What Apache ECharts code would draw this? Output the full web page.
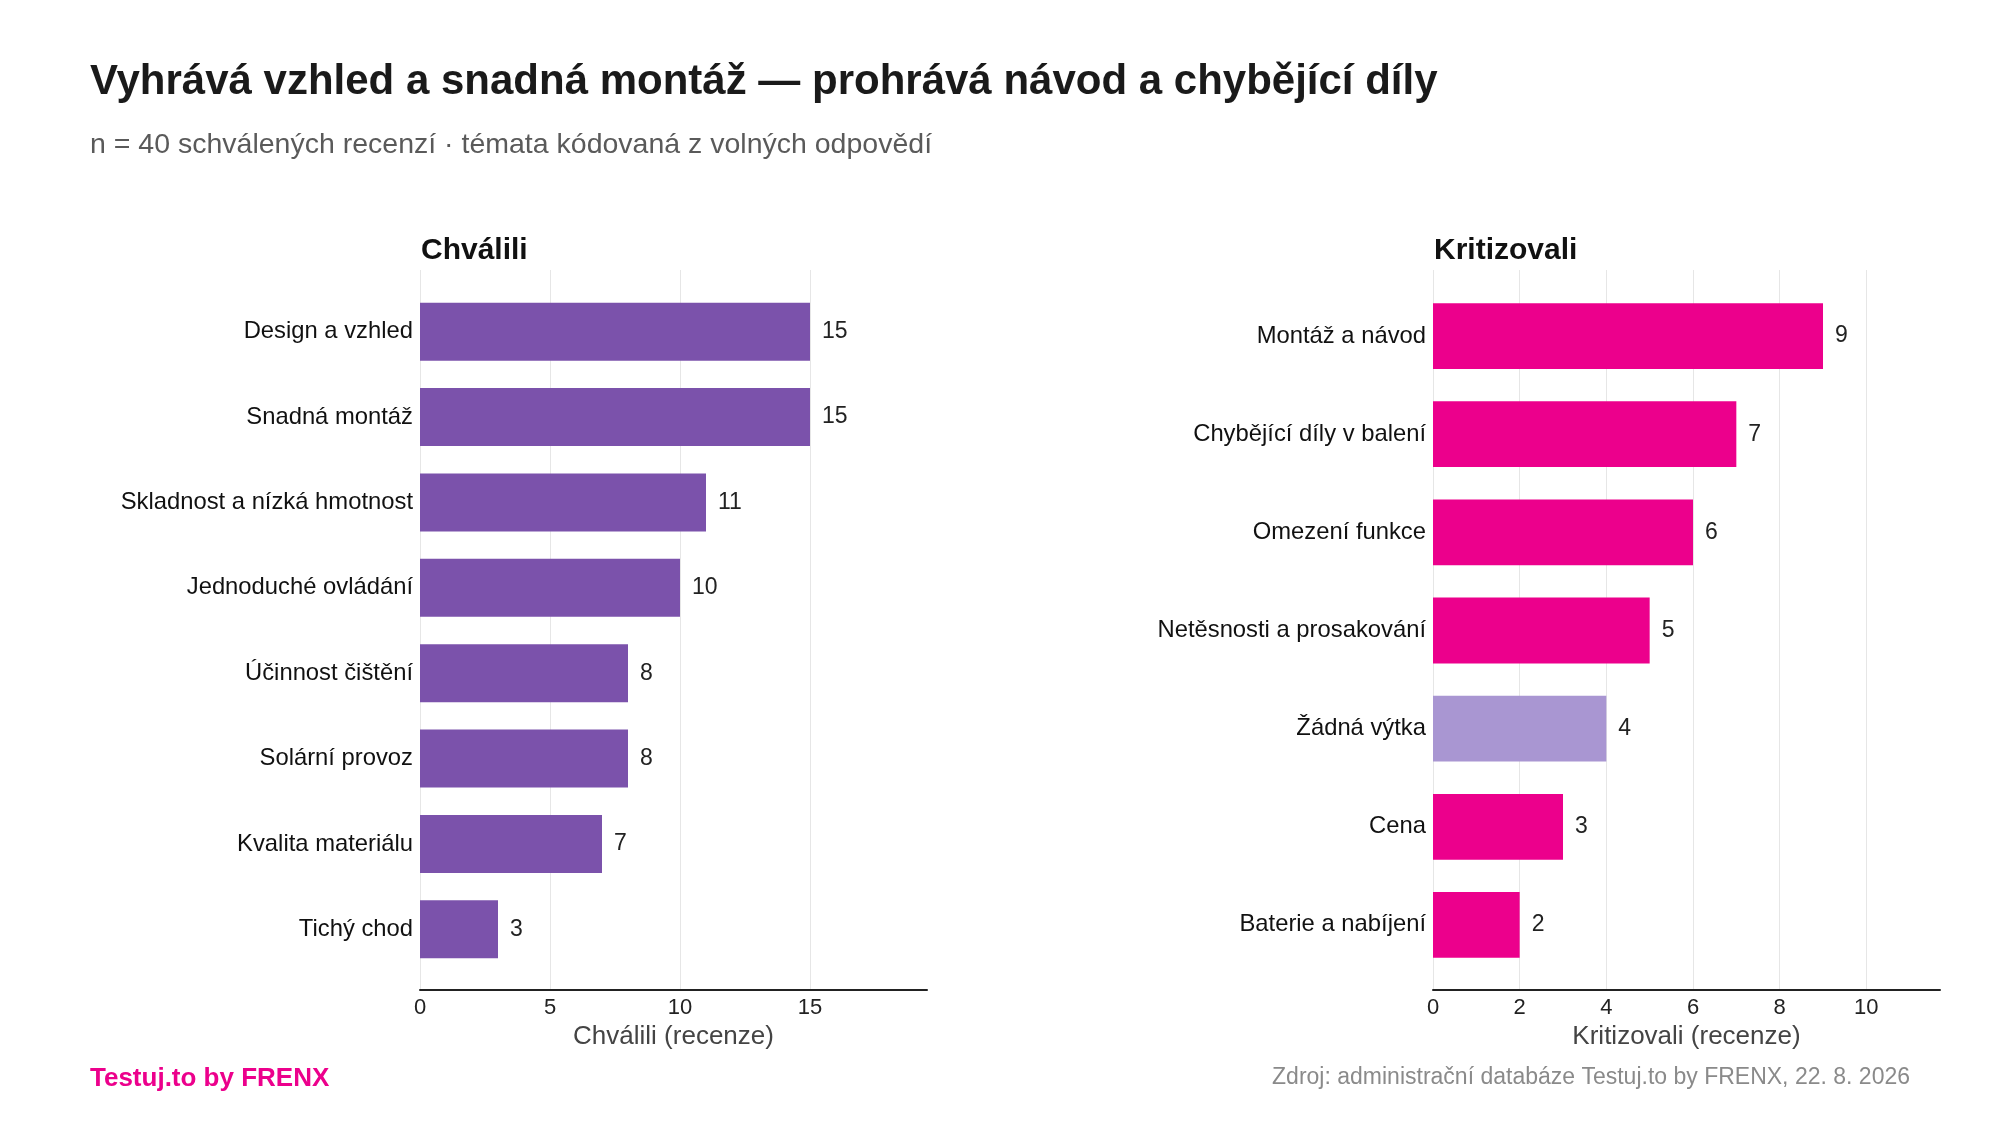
<!DOCTYPE html>
<html>
<head>
<meta charset="utf-8">
<script src="https://cdn.jsdelivr.net/npm/echarts@6/dist/echarts.min.js"></script>
<style>
html,body{margin:0;padding:0;background:#fff;}
#chart{width:2000px;height:1125px;}
</style>
</head>
<body>
<div id="chart"></div>
<script>
const praiseCategories = ['Design a vzhled','Snadná montáž','Skladnost a nízká hmotnost','Jednoduché ovládání','Účinnost čištění','Solární provoz','Kvalita materiálu','Tichý chod'];
const praiseValues = [15,15,11,10,8,8,7,3];
const critCategories = ['Montáž a návod','Chybějící díly v balení','Omezení funkce','Netěsnosti a prosakování','Žádná výtka','Cena','Baterie a nabíjení'];
const critValues = [9,7,6,5,4,3,2];
const critNeutral = 'Žádná výtka';

const FONT = "'Liberation Sans', Arial, sans-serif";
const PURPLE = '#7B52AB';
const MAGENTA = '#EC008C';
const LIGHT = '#A996D2';

const praiseMax = Math.max(...praiseValues) * 1.3;
const critMax = Math.max(...critValues) * 1.3;

const chart = echarts.init(document.getElementById('chart'));

function bgX(gridIndex, max, interval, name) {
  return {
    type: 'value', gridIndex, min: 0, max, interval,
    name, nameLocation: 'middle', nameGap: 34,
    nameTextStyle: {fontFamily: FONT, fontSize: 26, color: '#444'},
    axisLine: {show: true, lineStyle: {color: '#222', width: 2}},
    axisTick: {show: false},
    axisLabel: {fontFamily: FONT, fontSize: 22, color: '#222', margin: 7, showMaxLabel: false},
    splitLine: {show: true, showMaxLine: false, lineStyle: {color: '#e6e6e6', width: 1}}
  };
}
function barX(gridIndex, max) {
  return {type: 'value', gridIndex, min: 0, max, show: false, splitLine: {show: false}};
}
function bgY(gridIndex) {
  return {type: 'value', gridIndex, show: false, splitLine: {show: false}};
}
function barY(gridIndex, cats) {
  return {
    type: 'category', gridIndex, data: cats, inverse: true,
    axisLine: {show: false}, axisTick: {show: false}, splitLine: {show: false},
    axisLabel: {fontFamily: FONT, fontSize: 23.8, color: '#111', margin: 7, padding: [5, 0, 0, 0]}
  };
}
function ttl(text, pos, size, weight, color) {
  return Object.assign({text, padding: 0,
    textStyle: {fontFamily: FONT, fontSize: size, fontWeight: weight, color, lineHeight: size}}, pos);
}

chart.setOption({
  animation: false,
  backgroundColor: '#fff',
  title: [
    ttl('Vyhrává vzhled a snadná montáž — prohrává návod a chybějící díly', {left: 90, top: 61}, 42, 'bold', '#1a1a1a'),
    ttl('n = 40 schválených recenzí · témata kódovaná z volných odpovědí', {left: 90, top: 131}, 28.5, 'normal', '#5a5a5a'),
    ttl('Chválili', {left: 421, top: 236}, 30, 'bold', '#111'),
    ttl('Kritizovali', {left: 1434, top: 236}, 30, 'bold', '#111'),
    ttl('Testuj.to by FRENX', {left: 90, top: 1066}, 26, 'bold', MAGENTA),
    ttl('Zdroj: administrační databáze Testuj.to by FRENX, 22. 8. 2026', {right: 90, top: 1066}, 23, 'normal', '#8a8a8a')
  ],
  grid: [
    {left: 420, right: 1073, top: 270, bottom: 135, containLabel: false},
    {left: 420, right: 1073, top: 289, bottom: 153, containLabel: false},
    {left: 1433, right: 60, top: 270, bottom: 135, containLabel: false},
    {left: 1433, right: 60, top: 287, bottom: 151, containLabel: false}
  ],
  xAxis: [
    bgX(0, praiseMax, 5, 'Chválili (recenze)'),
    barX(1, praiseMax),
    bgX(2, critMax, 2, 'Kritizovali (recenze)'),
    barX(3, critMax)
  ],
  yAxis: [
    bgY(0),
    barY(1, praiseCategories),
    bgY(2),
    barY(3, critCategories)
  ],
  series: [
    {
      type: 'bar', xAxisIndex: 1, yAxisIndex: 1, barWidth: '68%',
      data: praiseValues,
      itemStyle: {color: PURPLE},
      label: {show: true, position: 'right', distance: 12, fontFamily: FONT, fontSize: 23, color: '#222'}
    },
    {
      type: 'bar', xAxisIndex: 3, yAxisIndex: 3, barWidth: '67%',
      data: critValues.map((v, i) => ({value: v, itemStyle: {color: critCategories[i] === critNeutral ? LIGHT : MAGENTA}})),
      label: {show: true, position: 'right', distance: 12, fontFamily: FONT, fontSize: 23, color: '#222'}
    }
  ]
});
</script>
</body>
</html>
